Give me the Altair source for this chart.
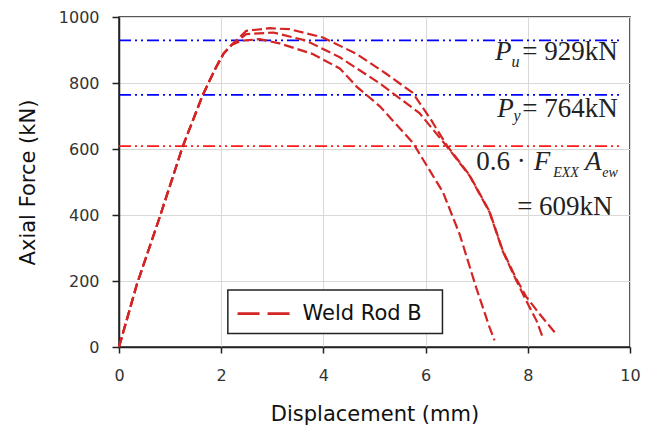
import altair as alt
import pandas as pd

# ---- data ----
# rising branch shared by the three specimens
rise_x = [0, 0.35, 0.8, 1.25, 1.64, 1.9, 2.05, 2.2]
rise_y = [0, 190, 395, 609, 764, 848, 890, 915]

inner_x = [2.4, 2.75, 3.14, 3.79, 4.32, 4.45, 4.65, 5.1, 5.75, 6.34, 6.67, 6.99, 7.25, 7.35]
inner_y = [928, 933, 920, 888, 844, 823, 789, 730, 619, 469, 340, 180, 60, 20]

middle_x = [2.49, 3.02, 3.67, 4.32, 5.1, 5.62, 5.88, 6.41, 6.86, 7.25, 7.51, 7.78, 7.97, 8.17, 8.3]
middle_y = [948, 953, 928, 878, 799, 739, 709, 609, 519, 409, 290, 200, 140, 80, 26]

outer_x = [2.49, 2.95, 3.34, 3.99, 4.65, 5.23, 5.75, 6.1, 6.41, 6.86, 7.25, 7.51, 7.78, 7.97, 8.23, 8.55]
outer_y = [958, 966, 963, 938, 888, 828, 770, 690, 612, 521, 411, 292, 205, 152, 100, 40]

series_name = "Weld Rod B"

ref_values = [929, 764, 609]
ref_names = ["Pu", "Py", "Rn"]
ref_colors = ["#0000FF", "#0000FF", "#FF1A1A"]
ref_x_end = 9.85

x_ticks = [0, 2, 4, 6, 8, 10]
y_ticks = [0, 200, 400, 600, 800, 1000]

CURVE_COLOR = "#D42424"

# ---- build tables ----
rows = []
for cid, (xs_, ys_) in enumerate([(inner_x, inner_y), (middle_x, middle_y), (outer_x, outer_y)]):
    allx = rise_x + xs_
    ally = rise_y + ys_
    for i, (a, b) in enumerate(zip(allx, ally)):
        rows.append({"curve": cid, "order": i, "disp": a, "force": b})
curves = pd.DataFrame(rows)

refs = pd.DataFrame({"name": ref_names, "value": ref_values, "x0": 0.0, "x1": ref_x_end})

xs = alt.Scale(domain=[0, 10], nice=False, zero=False)
ys = alt.Scale(domain=[0, 1000], nice=False)

lines = alt.Chart(curves).mark_line(strokeWidth=2.2, strokeDash=[10, 4], color=CURVE_COLOR).encode(
    x=alt.X("disp:Q", scale=xs,
            axis=alt.Axis(title="Displacement (mm)", values=x_ticks, tickSize=6,
                          labelPadding=14, titlePadding=20, labelFlush=False, format="d")),
    y=alt.Y("force:Q", scale=ys,
            axis=alt.Axis(title="Axial Force (kN)", values=y_ticks, tickSize=7,
                          labelPadding=13, titlePadding=20, format="d")),
    detail="curve:N",
    order="order:Q",
)

rules = alt.Chart(refs).mark_rule(strokeWidth=1.8, strokeDash=[12, 4, 2, 4, 2, 4]).encode(
    x=alt.X("x0:Q", scale=xs),
    x2="x1:Q",
    y=alt.Y("value:Q", scale=ys),
    stroke=alt.Stroke("name:N", scale=alt.Scale(domain=ref_names, range=ref_colors), legend=None),
)

# ---- legend box (drawn by hand) ----
legend_box = alt.Chart().mark_rect(fill="white", stroke="#222", strokeWidth=1.5).encode(
    x=alt.datum(2.13, scale=xs), x2=alt.datum(6.33),
    y=alt.datum(173, scale=ys), y2=alt.datum(41),
)
legend_line = alt.Chart().mark_rule(stroke=CURVE_COLOR, strokeWidth=2.7, strokeDash=[22, 8]).encode(
    x=alt.datum(2.32, scale=xs), x2=alt.datum(3.36),
    y=alt.datum(101, scale=ys),
)
legend_text = alt.Chart().mark_text(
    text=series_name, font="DejaVu Sans", fontSize=21, align="left", baseline="middle", color="#111"
).encode(x=alt.datum(3.59, scale=xs), y=alt.datum(101, scale=ys))


def label(text, x, y, size=27, italic=False, align="left"):
    return alt.Chart().mark_text(
        text=text, font="Liberation Serif", fontSize=size,
        fontStyle="italic" if italic else "normal",
        align=align, baseline="alphabetic", color="#222",
    ).encode(x=alt.datum(x, scale=xs), y=alt.datum(y, scale=ys))


texts = [
    label("P", 7.36, 870, italic=True),
    label("u", 7.68, 849, size=16, italic=True),
    label("= 929kN", 9.76, 870, align="right"),
    label("P", 7.40, 697, italic=True),
    label("y", 7.72, 685, size=16, italic=True),
    label("= 764kN", 9.76, 697, align="right"),
    label("0.6 \u00b7", 7.96, 535, align="right"),
    label("F", 8.44, 535, italic=True, align="right"),
    label("EXX", 9.0, 514, size=14, italic=True, align="right"),
    label("A", 9.44, 535, italic=True, align="right"),
    label("ew", 9.76, 514, size=14, italic=True, align="right"),
    label("= 609kN", 9.66, 400, align="right"),
]

chart = alt.layer(rules, lines, legend_box, legend_line, legend_text, *texts).properties(
    width=511, height=330,
    autosize=alt.AutoSizeParams(type="none"),
    padding={"left": 111, "top": 9, "right": 16, "bottom": 84},
).configure_view(
    stroke="#222", strokeWidth=1.5
).configure_axis(
    domainColor="#222", domainWidth=1.5, tickColor="#222", tickWidth=1.5,
    gridColor="#D9D9D9", gridWidth=1,
    labelFont="DejaVu Sans", labelFontSize=16, labelColor="#333",
    titleFont="DejaVu Sans", titleFontSize=21, titleFontWeight="normal", titleColor="#111",
)

chart.save("out.html", embed_options={"renderer": "svg", "actions": False})
